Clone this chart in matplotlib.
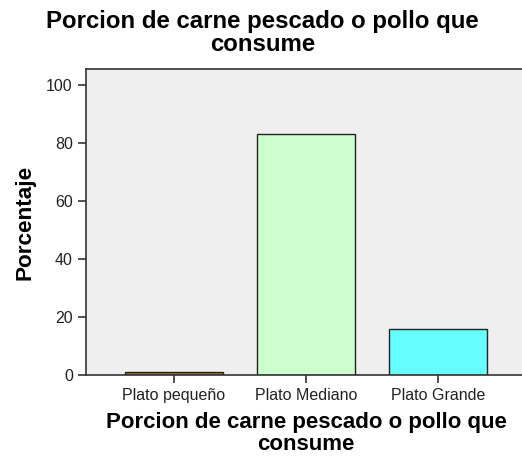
import matplotlib
matplotlib.use('Agg')
import matplotlib.pyplot as plt

plt.rcParams['font.family'] = ['Liberation Sans', 'DejaVu Sans']

categorias = ['Plato pequeño', 'Plato Mediano', 'Plato Grande']
porcentaje = [1.2, 83.0, 15.8]
colores = ['#9b7a14', '#ccffcc', '#66ffff']
titulo = 'Porcion de carne pescado o pollo que\nconsume'

fig = plt.figure(figsize=(5.22, 4.63), dpi=100)
ax = fig.add_axes([86/522, 88/463, 440/522, 306/463])
ax.set_facecolor('#efefef')

x = range(len(categorias))
ax.bar(x, porcentaje, width=0.74, color=colores, edgecolor='#222222', linewidth=1.0)

ax.set_xlim(-0.667, 2.667)
ax.set_ylim(0, 105.5)
ax.set_yticks([0, 20, 40, 60, 80, 100])
ax.set_xticks(list(x))
ax.set_xticklabels(categorias)
ax.tick_params(axis='both', labelsize=11.5, colors='#333333', length=6, width=1.2, labelcolor='#222222')
for s in ax.spines.values():
    s.set_linewidth(1.2)
    s.set_color('#333333')

ax.set_ylabel('Porcentaje', fontsize=16.2, fontweight='bold', labelpad=8)
ax.set_xlabel(titulo, fontsize=16, fontweight='bold', labelpad=6, linespacing=1.08)
fig.text(0.503, 0.978, titulo, ha='center', va='top', fontsize=17.3, fontweight='bold', linespacing=1.0)

fig.savefig('out.png', dpi=100)
